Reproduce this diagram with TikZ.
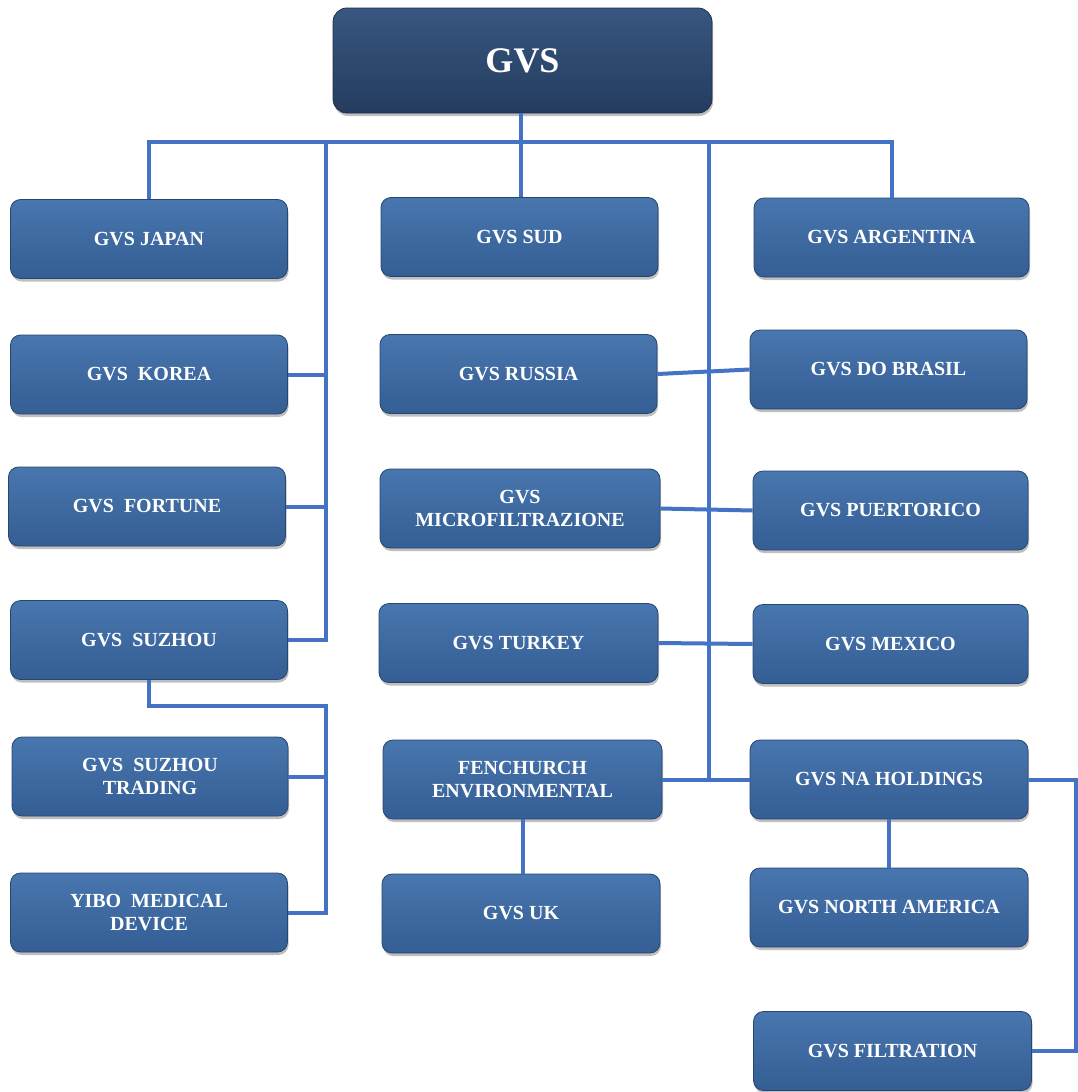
\documentclass[tikz,border=0pt]{standalone}
\usepackage{fontspec}
\setmainfont{Liberation Serif}
\usetikzlibrary{shadows}
\definecolor{conncol}{RGB}{68,114,196}
\definecolor{boxtop}{RGB}{72,118,174}
\definecolor{boxbot}{RGB}{52,94,148}
\definecolor{boxline}{RGB}{38,70,112}
\definecolor{roottop}{RGB}{56,86,128}
\definecolor{rootbot}{RGB}{36,60,95}
\tikzset{
  orgbox/.style={rectangle, rounded corners=10pt, draw=boxline, line width=0.8pt,
    top color=boxtop, bottom color=boxbot, text=white, align=center,
    font=\fontsize{20}{23}\selectfont\bfseries,
    minimum width=277pt, minimum height=79pt, inner sep=2pt,
    drop shadow={opacity=0.5, shadow xshift=1pt, shadow yshift=-3pt}},
  rootbox/.style={orgbox, top color=roottop, bottom color=rootbot, draw=rootbot!80!black,
    rounded corners=14pt, font=\fontsize{36}{40}\selectfont\bfseries,
    minimum width=379pt, minimum height=105pt},
  conn/.style={draw=conncol, line width=4pt, line join=miter}
}
\begin{document}
\begin{tikzpicture}[x=1pt,y=-1pt]
\useasboundingbox (0,0) rectangle (1078,1092);
% nodes
\node[rootbox] (gvs) at (522.5,60.5) {GVS};
\node[orgbox] (japan) at (149,239) {GVS JAPAN};
\node[orgbox] (sud) at (519.5,237) {GVS SUD};
\node[orgbox, minimum width=275pt] (arg) at (891.5,237.5) {GVS ARGENTINA};
\node[orgbox] (korea) at (149,374.5) {GVS\ \ KOREA};
\node[orgbox] (russia) at (518.5,374) {GVS RUSSIA};
\node[orgbox] (brasil) at (888.5,369.5) {GVS DO BRASIL};
\node[orgbox] (fortune) at (147,506.5) {GVS\ \ FORTUNE};
\node[orgbox, minimum width=280pt] (micro) at (520,508.5) {GVS\\MICROFILTRAZIONE};
\node[orgbox, minimum width=275pt] (puerto) at (890.5,510.5) {GVS PUERTORICO};
\node[orgbox] (suzhou) at (149,640) {GVS\ \ SUZHOU};
\node[orgbox, minimum width=279pt] (turkey) at (518.5,643) {GVS TURKEY};
\node[orgbox, minimum width=275pt] (mexico) at (890.5,644) {GVS MEXICO};
\node[orgbox, minimum width=276pt] (trading) at (150,776.5) {GVS\ \ SUZHOU\\TRADING};
\node[orgbox, minimum width=279pt] (fenchurch) at (522.5,779.5) {FENCHURCH\\ENVIRONMENTAL};
\node[orgbox, minimum width=278pt] (naholdings) at (889,779.5) {GVS NA HOLDINGS};
\node[orgbox] (yibo) at (149,912.5) {YIBO\ \ MEDICAL\\DEVICE};
\node[orgbox, minimum width=278pt] (uk) at (521,913.5) {GVS UK};
\node[orgbox, minimum width=278pt] (northam) at (889,907.5) {GVS NORTH AMERICA};
\node[orgbox, minimum width=278pt] (filtration) at (892.5,1051) {GVS FILTRATION};
% junction coordinates
\coordinate (bus) at (521,142);
\coordinate (lx) at (326,142);
\coordinate (rx) at (709,142);
\coordinate (sx) at (326,706);
\coordinate (fx) at (1076,779.5);
% connectors
\draw[conn] (gvs.south -| bus) -- (bus);
\draw[conn] (japan.north) -- (japan.north |- bus) -- (arg.north |- bus) -- (arg.north);
\draw[conn] (sud.north -| bus) -- (bus);
\draw[conn] (lx) -- (lx |- suzhou.east) -- (suzhou.east);
\draw[conn] (korea.east) -- (korea.east -| lx);
\draw[conn] (fortune.east) -- (fortune.east -| lx);
\draw[conn] (rx) -- (rx |- naholdings.west);
\draw[conn] (russia.east) -- (brasil.west);
\draw[conn] (micro.east) -- (puerto.west);
\draw[conn] (turkey.east) -- (mexico.west);
\draw[conn] (fenchurch.east) -- (naholdings.west);
\draw[conn] (suzhou.south) -- (suzhou.south |- sx) -- (sx) -- (sx |- yibo.east) -- (yibo.east);
\draw[conn] (trading.east) -- (trading.east -| sx);
\draw[conn] (fenchurch.south) -- (uk.north -| fenchurch.south);
\draw[conn] (naholdings.south) -- (northam.north -| naholdings.south);
\draw[conn] (naholdings.east) -- (fx) -- (fx |- filtration.east) -- (filtration.east);
\end{tikzpicture}
\end{document}
